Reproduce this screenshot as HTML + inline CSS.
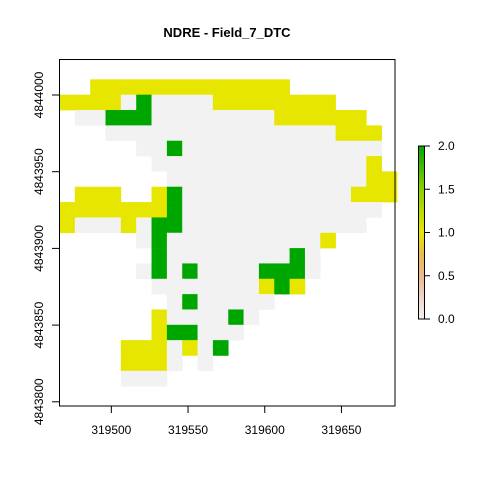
<!DOCTYPE html>
<html><head><meta charset="utf-8"><style>
body{margin:0;background:#fff}
svg text{font-family:"Liberation Sans",Arial,sans-serif;fill:#000}
</style></head><body>
<svg id="chart" width="480" height="480" xmlns="http://www.w3.org/2000/svg">
<defs>
<linearGradient id="cb" x1="0" y1="1" x2="0" y2="0">
<stop offset="0" stop-color="#F2F2F2"/>
<stop offset="0.12" stop-color="#EFD6CB"/>
<stop offset="0.25" stop-color="#ECB98A"/>
<stop offset="0.38" stop-color="#E8BC4E"/>
<stop offset="0.5" stop-color="#E6E600"/>
<stop offset="0.75" stop-color="#8BD000"/>
<stop offset="1" stop-color="#00A600"/>
</linearGradient>
</defs>
<g id="cells"></g>
<rect x="59.5" y="59.5" width="335.5" height="346.5" fill="none" stroke="#000" stroke-width="1"/>
<g id="axes"></g>
<text x="227" y="37" font-size="13" font-weight="bold" text-anchor="middle">NDRE - Field_7_DTC</text>
<g>
<rect x="418.5" y="146" width="6" height="173" fill="url(#cb)" stroke="#000" stroke-width="1"/>
<g id="legend"></g>
</g>
</svg>
<script>
const gridRows = [
"..yyyyyyyyyyyyy.......",
"yyyywgwwwwyyyyyyyy....",
".wwgggwwwwwwwwyyyyyy..",
"...wwwwwwwwwwwwwwwyyy.",
".....wwgwwwwwwwwwwwww.",
"......wwwwwwwwwwwwwwy.",
".......wwwwwwwwwwwwwyy",
".yyy..ygwwwwwwwwwwwyyy",
"yyyyyyygwwwwwwwwwwwww.",
"ywwwywggwwwwwwwwwwww..",
".....wgwwwwwwwwwwy....",
"......gwwwwwwwwgw.....",
".....wgwgwwwwgggw.....",
"......wwwwwwwygy......",
".......wgwwwww........",
"......ywwwwgw.........",
"......yggwww..........",
"....yyywywg...........",
"....yyyw.w............",
"....www..............."
];
const xTicks = [319500, 319550, 319600, 319650];
const yTicks = [4843800, 4843850, 4843900, 4843950, 4844000];
const legendTicks = [0.0, 0.5, 1.0, 1.5, 2.0];
const legendLabels = ["0.0","0.5","1.0","1.5","2.0"];
const x0 = 319466.2, yTop = 4844010.2, res = 10;
const colors = {w:"#F2F2F2", y:"#E6E600", g:"#00A600"};
const ns = "http://www.w3.org/2000/svg";
const pxPerUnit = 76.7/50;
function sx(v){return 59.5 + (v - x0)*pxPerUnit;}
function sy(v){return 95 + (4844000 - v)*pxPerUnit;}
function ly(v){return 319 - v/2*173;}
const cells = document.getElementById('cells');
gridRows.forEach((row, r) => {
  for (let c = 0; c < row.length; c++) {
    const ch = row[c];
    if (ch === '.') continue;
    const rect = document.createElementNS(ns, 'rect');
    const xa = sx(x0 + c*res), xb = sx(x0 + (c+1)*res);
    const ya = sy(yTop - r*res), yb = sy(yTop - (r+1)*res);
    rect.setAttribute('x', xa); rect.setAttribute('y', ya);
    rect.setAttribute('width', xb - xa + 0.3); rect.setAttribute('height', yb - ya + 0.3);
    rect.setAttribute('fill', colors[ch]);
    
    
    cells.appendChild(rect);
  }
});
const axes = document.getElementById('axes');
xTicks.forEach(t => {
  const x = sx(t);
  const l = document.createElementNS(ns, 'line');
  l.setAttribute('x1', x); l.setAttribute('x2', x); l.setAttribute('y1', 406); l.setAttribute('y2', 413);
  l.setAttribute('stroke', '#000');
  
  
  axes.appendChild(l);
  const tx = document.createElementNS(ns, 'text');
  tx.setAttribute('x', x); tx.setAttribute('y', 434); tx.setAttribute('font-size', '12'); tx.setAttribute('text-anchor', 'middle');
  tx.textContent = t;
  
  
  axes.appendChild(tx);
});
yTicks.forEach(t => {
  const y = sy(t);
  const l = document.createElementNS(ns, 'line');
  l.setAttribute('x1', 52); l.setAttribute('x2', 59.5); l.setAttribute('y1', y); l.setAttribute('y2', y);
  l.setAttribute('stroke', '#000');
  
  
  axes.appendChild(l);
  const tx = document.createElementNS(ns, 'text');
  tx.setAttribute('x', 0); tx.setAttribute('y', 0); tx.setAttribute('font-size', '12'); tx.setAttribute('text-anchor', 'middle');
  tx.setAttribute('transform', 'translate(43,' + y + ') rotate(-90)');
  tx.textContent = t;
  
  
  axes.appendChild(tx);
});
const lg = document.getElementById('legend');
legendTicks.forEach((t, i) => {
  const y = ly(t);
  const l = document.createElementNS(ns, 'line');
  l.setAttribute('x1', 424.5); l.setAttribute('x2', 430); l.setAttribute('y1', y); l.setAttribute('y2', y);
  l.setAttribute('stroke', '#000');
  
  
  lg.appendChild(l);
  const tx = document.createElementNS(ns, 'text');
  tx.setAttribute('x', 438); tx.setAttribute('y', y + 4); tx.setAttribute('font-size', '12');
  tx.textContent = legendLabels[i];
  
  
  lg.appendChild(tx);
});
</script>
</body></html>
